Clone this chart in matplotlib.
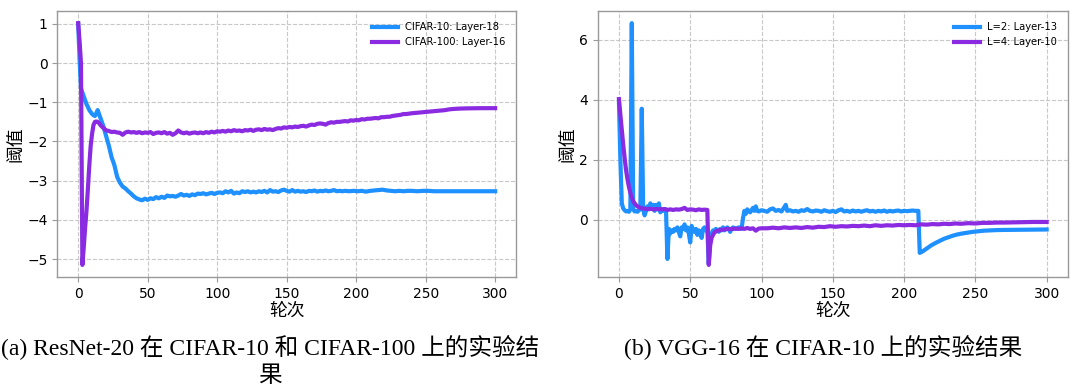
import matplotlib
matplotlib.use("Agg")
import matplotlib.pyplot as plt

# ---------------- data ----------------
# (a) ResNet-20
c10_epochs = [0,1,2,3,4,5,6,7,8,9,10,11,12,13,14,15,16,17,18,19,20,22,24,26,28,30,32,34,36,38,40,42,44,46,48,50,
              52,54,56,58,60,62,64,66,68,70,72,74,76,78,80,82,84,86,88,90,92,94,96,98,100,102,104,106,108,110,
              112,114,116,118,120,122,124,126,128,130,132,134,136,138,140,142,144,146,148,150,152,154,156,158,160,
              162,164,166,168,170,172,174,176,178,180,182,184,186,188,190,192,195,198,201,204,207,210,213,216,219,
              222,225,228,231,234,237,240,244,248,252,256,260,265,270,280,290,300]
c10_vals = [1.0,0.1,-0.65,-0.75,-0.85,-0.95,-1.05,-1.12,-1.2,-1.25,-1.3,-1.33,-1.35,-1.28,-1.2,-1.3,-1.4,-1.5,-1.6,-1.72,
            -1.85,-2.1,-2.4,-2.6,-2.9,-3.05,-3.15,-3.2,-3.27,-3.33,-3.4,-3.45,-3.48,-3.5,-3.46,-3.49,
            -3.45,-3.47,-3.42,-3.45,-3.41,-3.44,-3.38,-3.4,-3.39,-3.41,-3.38,-3.34,-3.38,-3.36,-3.39,-3.35,-3.37,-3.33,
            -3.34,-3.32,-3.35,-3.33,-3.31,-3.34,-3.31,-3.3,-3.32,-3.27,-3.3,-3.26,
            -3.33,-3.3,-3.32,-3.27,-3.29,-3.27,-3.3,-3.28,-3.3,-3.27,-3.29,-3.26,-3.3,-3.24,-3.28,-3.27,-3.29,-3.25,
            -3.23,-3.26,-3.28,-3.24,-3.28,-3.26,-3.28,
            -3.27,-3.29,-3.26,-3.27,-3.25,-3.28,-3.26,-3.27,-3.25,-3.27,-3.26,-3.24,-3.27,-3.26,-3.27,-3.26,-3.27,
            -3.26,-3.27,-3.26,-3.28,-3.26,-3.25,-3.24,-3.23,
            -3.25,-3.26,-3.27,-3.26,-3.27,-3.26,-3.26,-3.27,-3.26,-3.26,-3.27,-3.27,-3.27,-3.27,-3.27,-3.27,-3.27]

c100_epochs = [0,1,2,3,4,5,6,7,8,9,10,11,12,13,14,15,16,17,18,19,20,22,24,26,28,30,32,34,36,38,40,42,44,46,48,50,
               52,54,56,58,60,62,64,66,68,70,72,74,76,78,80,82,84,86,88,90,92,94,96,98,100,102,104,106,108,110,
               112,114,116,118,120,122,124,126,128,130,132,134,136,138,140,142,144,146,148,150,152,154,156,158,160,
               162,164,166,168,170,172,174,176,178,180,182,184,186,188,190,192,194,196,198,200,202,204,206,208,210,
               212,214,216,218,220,222,224,226,228,230,232,234,236,238,240,243,246,249,252,255,258,261,264,267,270,
               275,280,290,300]
c100_vals = [1.02,0.55,0.0,-5.15,-4.7,-4.2,-3.75,-3.2,-2.6,-2.1,-1.8,-1.58,-1.5,-1.49,-1.5,-1.53,-1.58,-1.62,-1.65,-1.68,
             -1.72,-1.73,-1.76,-1.75,-1.77,-1.78,-1.83,-1.77,-1.75,-1.77,-1.76,-1.78,-1.76,-1.79,-1.77,-1.78,
             -1.76,-1.81,-1.78,-1.77,-1.79,-1.76,-1.8,-1.78,-1.83,-1.79,-1.72,-1.77,-1.79,-1.77,-1.8,-1.78,-1.77,-1.79,
             -1.77,-1.79,-1.76,-1.78,-1.75,-1.77,-1.74,-1.75,-1.73,-1.75,-1.72,-1.74,
             -1.71,-1.73,-1.72,-1.74,-1.71,-1.72,-1.7,-1.73,-1.7,-1.69,-1.71,-1.68,-1.7,-1.69,-1.71,-1.68,-1.66,-1.67,
             -1.64,-1.65,-1.63,-1.64,-1.62,-1.63,-1.61,
             -1.6,-1.62,-1.59,-1.57,-1.58,-1.55,-1.54,-1.55,-1.57,-1.53,-1.51,-1.52,-1.5,-1.5,-1.49,-1.48,-1.49,-1.46,
             -1.47,-1.45,-1.46,-1.43,-1.44,-1.42,-1.42,
             -1.41,-1.4,-1.41,-1.38,-1.38,-1.37,-1.37,-1.35,-1.34,-1.33,-1.32,-1.3,-1.3,-1.29,-1.28,-1.27,-1.26,-1.25,
             -1.24,-1.23,-1.22,-1.21,-1.2,-1.18,-1.17,
             -1.16,-1.155,-1.15,-1.15]

# (b) VGG-16
l2_epochs = list(range(0, 81)) + [82,84,86,87,88,89,90,91,92,93,94,95,96,97,98,100,102,104,106,108,110,112,114,116,117,
             118,120,122,124,126,128,130,132,134,136,138,140,142,144,146,148,150,152,154,156,158,160,162,164,166,
             168,170,172,174,176,178,180,182,184,186,188,190,192,194,196,198,200,202,204,206,208,210,211,213,216,
             219,222,225,228,231,234,237,240,244,248,252,256,260,265,270,280,290,300]
l2_vals = [3.9,2.0,0.55,0.38,0.32,0.28,0.3,0.27,0.35,6.55,0.35,0.28,0.3,0.27,0.32,0.35,3.7,0.35,0.15,0.3,
           0.45,0.35,0.55,0.4,0.5,0.3,0.5,0.35,0.55,0.25,0.35,0.3,0.35,0.35,-1.3,-0.3,-0.45,-0.35,-0.4,-0.3,
           -0.35,-0.25,-0.4,-0.55,-0.25,-0.3,-0.15,-0.35,-0.25,-0.45,-0.75,-0.2,-0.35,-0.4,-0.3,-0.5,-0.35,-0.4,-0.6,-0.3,
           -0.25,-0.35,-0.3,-1.45,-0.65,-0.45,-0.35,-0.4,-0.3,-0.35,-0.4,-0.3,-0.35,-0.25,-0.35,-0.3,-0.25,-0.3,-0.4,-0.3,
           -0.25,
           -0.3,-0.25,-0.3,0.05,0.3,0.2,0.35,0.3,0.25,0.32,0.4,0.3,0.45,0.3,0.28,0.32,0.3,0.27,0.35,0.38,0.3,0.33,0.28,
           0.42,0.5,
           0.3,0.32,0.28,0.3,0.27,0.32,0.3,0.36,0.3,0.28,0.31,0.3,0.27,0.32,0.29,0.27,0.3,0.26,0.32,0.35,0.28,0.3,0.27,
           0.31,0.28,
           0.3,0.27,0.3,0.32,0.28,0.3,0.27,0.3,0.28,0.31,0.27,0.3,0.28,0.3,0.31,0.28,0.3,0.29,0.3,0.31,0.3,0.3,-1.1,
           -1.05,-0.95,
           -0.85,-0.77,-0.7,-0.63,-0.58,-0.53,-0.49,-0.46,-0.43,-0.4,-0.38,-0.36,-0.35,-0.34,-0.335,-0.33,-0.325,-0.32]

l4_epochs = [0,1,2,3,4,5,6,7,8,9,10,11,12,13,14,15,16,18,20,22,24,26,28,30,32,34,36,38,40,42,44,46,48,50,52,54,56,
             58,60,62,63,64,65,66,67,68,70,72,74,76,78,80,82,84,86,88,90,92,94,96,98,100,104,108,112,116,120,124,
             128,132,136,140,144,148,152,156,160,164,168,172,176,180,184,188,192,196,200,204,208,212,216,220,224,
             228,232,236,240,245,250,255,260,265,270,280,290,300]
l4_vals = [4.02,3.5,3.0,2.5,2.05,1.65,1.35,1.1,0.9,0.75,0.62,0.55,0.49,0.45,0.42,0.4,0.39,0.37,0.36,0.37,0.35,0.36,
           0.36,0.35,0.36,0.33,0.35,0.33,0.35,0.34,0.36,0.4,0.33,0.35,0.34,0.32,0.35,
           0.33,0.34,0.33,-1.5,-0.85,-0.6,-0.5,-0.42,-0.38,-0.35,-0.33,-0.32,-0.3,-0.31,-0.3,-0.29,-0.3,-0.28,-0.3,
           -0.27,-0.3,-0.28,-0.36,-0.29,-0.28,-0.28,-0.26,-0.28,-0.25,-0.27,-0.25,
           -0.27,-0.24,-0.26,-0.23,-0.24,-0.21,-0.23,-0.21,-0.22,-0.2,-0.21,-0.19,-0.21,-0.18,-0.2,-0.18,-0.19,-0.17,
           -0.18,-0.17,-0.18,-0.15,-0.16,-0.14,-0.15,
           -0.13,-0.14,-0.12,-0.13,-0.11,-0.12,-0.1,-0.1,-0.09,-0.09,-0.08,-0.07,-0.07]

labels_a = ["CIFAR-10: Layer-18", "CIFAR-100: Layer-16"]
labels_b = ["L=2: Layer-13", "L=4: Layer-10"]
xlabel = "轮次"
ylabel = "阈值"
caption_a_line1 = "(a) ResNet-20 在 CIFAR-10 和 CIFAR-100 上的实验结"
caption_a_line2 = "果"
caption_b = "(b) VGG-16 在 CIFAR-10 上的实验结果"

# ---------------- style ----------------
BLUE = "#1E90FF"
PURPLE = "#8A2BE2"
CJK = ["Noto Sans CJK SC", "DejaVu Sans"]
SERIF = ["Liberation Serif", "Noto Sans CJK SC"]
plt.rcParams["font.family"] = ["DejaVu Sans", "Noto Sans CJK SC"]

fig = plt.figure(figsize=(10.8, 3.87), dpi=100)
ax1 = fig.add_axes([0.0531, 0.2842, 0.4247, 0.6873])
ax2 = fig.add_axes([0.5533, 0.2842, 0.4356, 0.6873])


def style(ax, yticks):
    for s in ax.spines.values():
        s.set_color("#999999")
        s.set_linewidth(1.0)
    ax.grid(True, linestyle="--", color="#c8c8c8", linewidth=0.8)
    ax.set_axisbelow(True)
    ax.set_xticks([0, 50, 100, 150, 200, 250, 300])
    ax.set_yticks(yticks)
    ax.tick_params(labelsize=10, length=3.5, color="#999999")
    ax.set_xlabel(xlabel, family=CJK, fontsize=12.8, labelpad=1)
    ax.set_ylabel(ylabel, family=CJK, fontsize=12.8, labelpad=2)


ax1.plot(c10_epochs, c10_vals, color=BLUE, lw=3.0, label=labels_a[0])
ax1.plot(c100_epochs, c100_vals, color=PURPLE, lw=3.0, label=labels_a[1])
style(ax1, [1, 0, -1, -2, -3, -4, -5])
ax1.legend(loc="upper right", frameon=False, fontsize=7.2, handlelength=2.6, handletextpad=0.7,
           borderaxespad=0.7)

ax2.plot(l2_epochs, l2_vals, color=BLUE, lw=3.0, label=labels_b[0])
ax2.plot(l4_epochs, l4_vals, color=PURPLE, lw=3.0, label=labels_b[1])
style(ax2, [0, 2, 4, 6])
ax2.legend(loc="upper right", frameon=False, fontsize=7.2, handlelength=2.6, handletextpad=0.7,
           borderaxespad=0.7)

fig.text(270 / 1080, 1 - 347 / 387, caption_a_line1, family=SERIF, fontsize=17, ha="center", va="center")
fig.text(270 / 1080, 1 - 376 / 387, caption_a_line2, family=SERIF, fontsize=17, ha="center", va="center")
fig.text(823 / 1080, 1 - 347 / 387, caption_b, family=SERIF, fontsize=17, ha="center", va="center")

fig.savefig("out.png", dpi=100)
